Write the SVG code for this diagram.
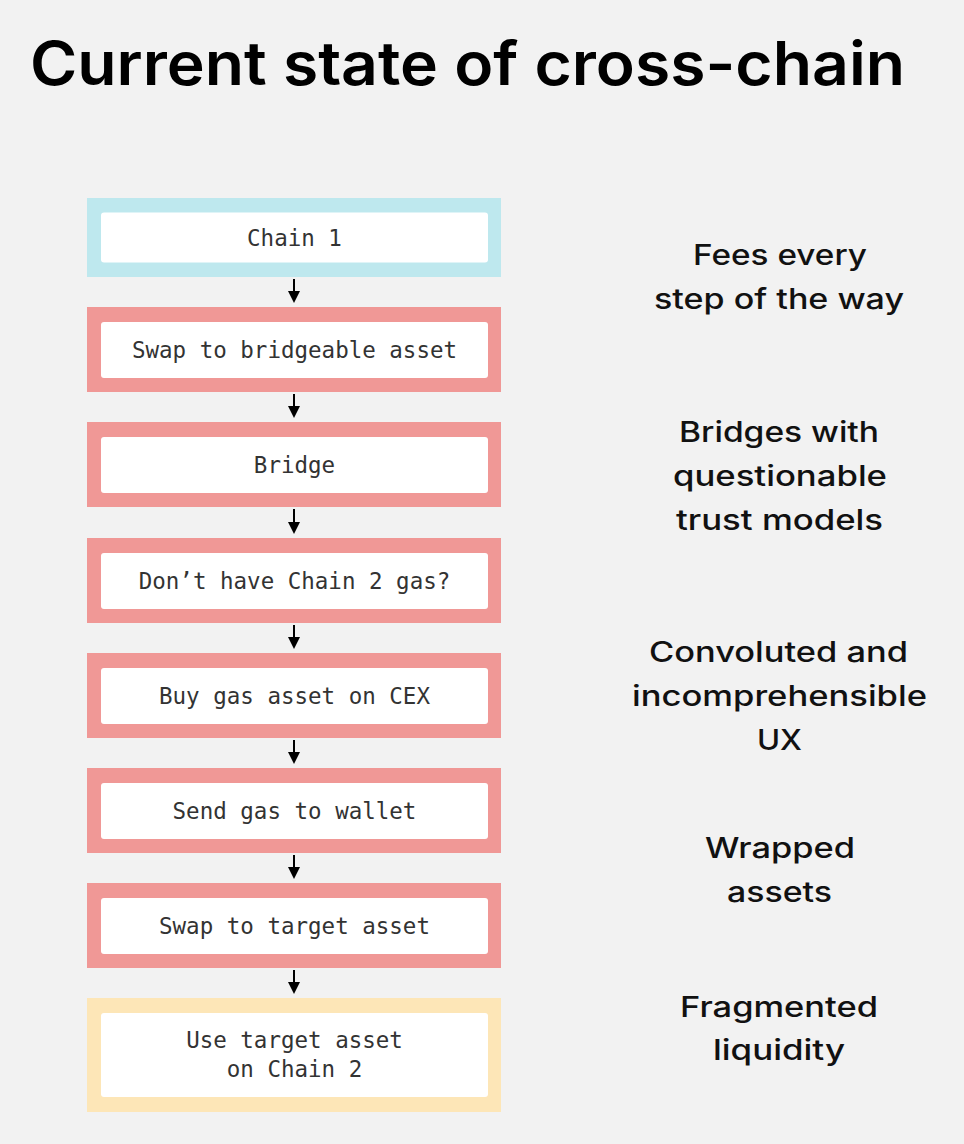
<svg xmlns="http://www.w3.org/2000/svg" width="964" height="1144" viewBox="0 0 964 1144">
<style>
.bg{fill:#f2f2f2}
.blue{fill:#bee8ee}
.pink{fill:#f09896}
.yellow{fill:#fde6b7}
.inner{fill:#ffffff}
.mono{font-family:"DejaVu Sans Mono","Liberation Mono",monospace;font-size:22.5px;fill:#333333;text-anchor:middle}
.title{font-family:Inter,"Liberation Sans",sans-serif;font-weight:600;font-size:60px;fill:#000000}
.side{font-family:Inter,"Liberation Sans",sans-serif;font-weight:500;font-size:28px;fill:#111111;text-anchor:middle}
.conn{stroke:#000000;stroke-width:2;fill:none}
</style>
<defs>
<marker id="ah" markerUnits="userSpaceOnUse" markerWidth="12" markerHeight="12" refX="4" refY="6" orient="auto">
<path d="M0,0 L12,6 L0,12 z" fill="#000000"/>
</marker>
</defs>
<rect class="bg" x="0" y="0" width="964" height="1144"/>
<text class="title" x="30" y="85" textLength="875" lengthAdjust="spacingAndGlyphs">Current state of cross-chain</text>

<g id="node-chain1">
<rect class="blue" x="87" y="198" width="414" height="79"/>
<rect class="inner" x="101" y="212.5" width="387" height="50" rx="3"/>
<text class="mono" x="294.5" y="245.5">Chain 1</text>
</g>
<g id="node-swap-bridgeable">
<rect class="pink" x="87" y="307" width="414" height="85"/>
<rect class="inner" x="101" y="322" width="387" height="56" rx="3"/>
<text class="mono" x="294.5" y="358">Swap to bridgeable asset</text>
</g>
<g id="node-bridge">
<rect class="pink" x="87" y="422" width="414" height="85"/>
<rect class="inner" x="101" y="437" width="387" height="56" rx="3"/>
<text class="mono" x="294.5" y="473">Bridge</text>
</g>
<g id="node-no-gas">
<rect class="pink" x="87" y="538" width="414" height="85"/>
<rect class="inner" x="101" y="553" width="387" height="56" rx="3"/>
<text class="mono" x="294.5" y="589">Don’t have Chain 2 gas?</text>
</g>
<g id="node-buy-gas">
<rect class="pink" x="87" y="653" width="414" height="85"/>
<rect class="inner" x="101" y="668" width="387" height="56" rx="3"/>
<text class="mono" x="294.5" y="704">Buy gas asset on CEX</text>
</g>
<g id="node-send-gas">
<rect class="pink" x="87" y="768" width="414" height="85"/>
<rect class="inner" x="101" y="783" width="387" height="56" rx="3"/>
<text class="mono" x="294.5" y="819">Send gas to wallet</text>
</g>
<g id="node-swap-target">
<rect class="pink" x="87" y="883" width="414" height="85"/>
<rect class="inner" x="101" y="898" width="387" height="56" rx="3"/>
<text class="mono" x="294.5" y="934">Swap to target asset</text>
</g>
<g id="node-use-target">
<rect class="yellow" x="87" y="998" width="414" height="114"/>
<rect class="inner" x="101" y="1013" width="387" height="84" rx="3"/>
<text class="mono" x="294.5" y="1048">Use target asset</text>
<text class="mono" x="294.5" y="1077">on Chain 2</text>
</g>

<g id="connectors">
<line class="conn" x1="294" y1="279" x2="294" y2="295" marker-end="url(#ah)"/>
<line class="conn" x1="294" y1="394" x2="294" y2="410" marker-end="url(#ah)"/>
<line class="conn" x1="294" y1="509" x2="294" y2="526" marker-end="url(#ah)"/>
<line class="conn" x1="294" y1="625" x2="294" y2="641" marker-end="url(#ah)"/>
<line class="conn" x1="294" y1="740" x2="294" y2="756" marker-end="url(#ah)"/>
<line class="conn" x1="294" y1="855" x2="294" y2="871" marker-end="url(#ah)"/>
<line class="conn" x1="294" y1="970" x2="294" y2="986" marker-end="url(#ah)"/>
</g>

<g id="notes">
<text class="side" x="780" y="265" textLength="174" lengthAdjust="spacingAndGlyphs">Fees every</text>
<text class="side" x="779" y="309" textLength="250" lengthAdjust="spacingAndGlyphs">step of the way</text>
<text class="side" x="779" y="442" textLength="200" lengthAdjust="spacingAndGlyphs">Bridges with</text>
<text class="side" x="780" y="486" textLength="214" lengthAdjust="spacingAndGlyphs">questionable</text>
<text class="side" x="779.5" y="530" textLength="207" lengthAdjust="spacingAndGlyphs">trust models</text>
<text class="side" x="778.5" y="662" textLength="259" lengthAdjust="spacingAndGlyphs">Convoluted and</text>
<text class="side" x="779.5" y="706" textLength="295" lengthAdjust="spacingAndGlyphs">incomprehensible</text>
<text class="side" x="779.5" y="750" textLength="45" lengthAdjust="spacingAndGlyphs">UX</text>
<text class="side" x="780" y="858" textLength="150" lengthAdjust="spacingAndGlyphs">Wrapped</text>
<text class="side" x="779.5" y="902" textLength="105" lengthAdjust="spacingAndGlyphs">assets</text>
<text class="side" x="779" y="1017" textLength="198" lengthAdjust="spacingAndGlyphs">Fragmented</text>
<text class="side" x="779" y="1060" textLength="132" lengthAdjust="spacingAndGlyphs">liquidity</text>
</g>
</svg>
